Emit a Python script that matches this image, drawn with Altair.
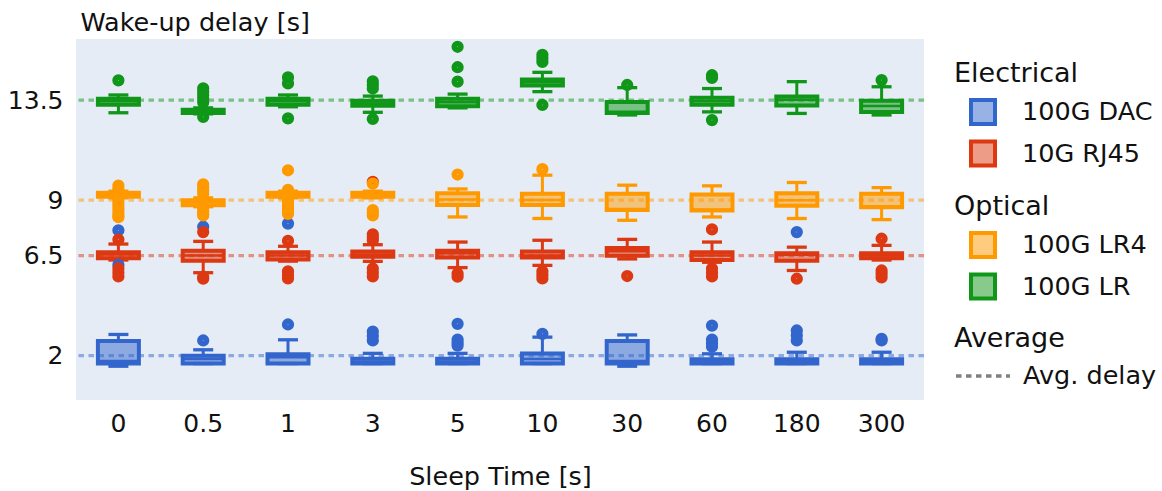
import altair as alt
import pandas as pd

# Sleep-time categories on the x axis
sleep = ["0", "0.5", "1", "3", "5", "10", "30", "60", "180", "300"]

# Transceiver types, grouped by medium
electrical = ["100G DAC", "10G RJ45"]
optical = ["100G LR4", "100G LR"]

line_color = {"100G DAC": "#3366CC", "10G RJ45": "#DC3912",
              "100G LR4": "#FF9900", "100G LR": "#109618"}
fill_color = {"100G DAC": "rgba(51,102,204,0.5)", "10G RJ45": "rgba(220,57,18,0.5)",
              "100G LR4": "rgba(255,153,0,0.5)", "100G LR": "rgba(16,150,24,0.5)"}

# Average wake-up delay per transceiver [s]
average = {"100G DAC": 2.0, "10G RJ45": 6.5, "100G LR4": 9.0, "100G LR": 13.5}

# Box statistics per sleep time [s]
q1 = {
    "100G DAC": [1.64, 1.64, 1.64, 1.64, 1.64, 1.64, 1.64, 1.64, 1.64, 1.64],
    "10G RJ45": [6.38, 6.27, 6.33, 6.45, 6.41, 6.42, 6.49, 6.30, 6.27, 6.38],
    "100G LR4": [9.15, 8.77, 9.15, 9.15, 8.78, 8.78, 8.55, 8.53, 8.74, 8.68],
    "100G LR": [13.29, 12.92, 13.29, 13.24, 13.22, 14.16, 12.92, 13.29, 13.26, 12.96],
}
median = {
    "100G DAC": [1.75, 1.85, 1.92, 1.72, 1.72, 1.85, 1.75, 1.72, 1.72, 1.72],
    "10G RJ45": [6.55, 6.51, 6.50, 6.55, 6.61, 6.51, 6.70, 6.50, 6.54, 6.50],
    "100G LR4": [9.25, 8.90, 9.25, 9.25, 9.02, 9.00, 8.60, 8.58, 8.99, 8.72],
    "100G LR": [13.45, 13.00, 13.45, 13.35, 13.40, 14.30, 12.97, 13.45, 13.52, 13.23],
}
q3 = {
    "100G DAC": [2.66, 1.99, 2.06, 1.86, 1.86, 2.09, 2.66, 1.83, 1.83, 1.83],
    "10G RJ45": [6.65, 6.72, 6.65, 6.68, 6.72, 6.69, 6.84, 6.65, 6.61, 6.61],
    "100G LR4": [9.33, 8.99, 9.33, 9.33, 9.31, 9.28, 9.28, 9.25, 9.31, 9.28],
    "100G LR": [13.56, 13.07, 13.56, 13.47, 13.56, 14.43, 13.41, 13.61, 13.66, 13.47],
}
whisker_low = {
    "100G DAC": [1.52, 1.64, 1.64, 1.64, 1.64, 1.64, 1.52, 1.64, 1.64, 1.64],
    "10G RJ45": [6.30, 5.73, 6.25, 6.24, 5.96, 6.06, 6.35, 6.20, 5.83, 6.30],
    "100G LR4": [9.10, 8.70, 9.10, 9.10, 8.24, 8.17, 8.09, 8.24, 8.17, 8.12],
    "100G LR": [12.93, 12.88, 13.20, 12.95, 13.15, 13.88, 12.83, 12.97, 12.90, 12.83],
}
whisker_high = {
    "100G DAC": [2.95, 2.26, 2.71, 2.10, 2.10, 2.83, 2.93, 2.08, 2.15, 2.15],
    "10G RJ45": [7.02, 7.14, 6.92, 6.99, 7.11, 7.19, 7.23, 7.11, 6.88, 6.96],
    "100G LR4": [9.40, 9.10, 9.40, 9.40, 9.50, 10.12, 9.67, 9.64, 9.79, 9.56],
    "100G LR": [13.73, 13.15, 13.73, 13.68, 13.77, 14.75, 14.06, 14.02, 14.33, 14.10],
}

# Outlying measurements per sleep time [s]
outliers = {
    "100G DAC": [
        [7.64, 6.08], [2.68, 7.80], [3.40, 7.94], [3.08, 2.88, 2.68], [3.43, 2.72, 2.58, 2.45],
        [2.98], [], [3.35, 2.72, 2.56, 2.40], [3.13, 2.90, 2.68, 7.56], [2.75, 2.68],
    ],
    "10G RJ45": [
        [7.22, 5.92, 5.74, 5.56], [7.56, 5.55, 5.46], [7.16, 5.79, 5.63, 5.47],
        [9.82, 7.46, 7.32, 7.19, 5.92, 5.74, 5.56], [5.69, 5.55], [5.79, 5.63, 5.47],
        [5.58], [7.68, 5.92, 5.74, 5.56], [5.46], [7.26, 5.83, 5.68, 5.52],
    ],
    "100G LR4": [
        [9.65, 9.50, 9.05, 8.90, 8.75, 8.60, 8.45, 8.30, 8.23],
        [9.71, 9.56, 9.42, 9.28, 8.65, 8.50, 8.38, 8.31],
        [10.34, 9.46, 9.05, 8.90, 8.75, 8.60, 8.48, 8.38],
        [9.74, 8.55, 8.43, 8.31], [10.15], [10.39], [], [], [], [],
    ],
    "100G LR": [
        [14.39], [14.03, 13.88, 13.72, 13.56, 13.40, 12.74], [14.52, 14.25, 12.68],
        [14.34, 14.18, 14.02, 12.65], [15.90, 14.98, 14.33], [15.54, 15.38, 15.22, 13.28],
        [14.18], [14.62, 14.50, 12.60], [], [14.40],
    ],
}

box_rows = []
point_rows = []
for name in electrical + optical:
    for i, s in enumerate(sleep):
        box_rows.append({
            "sleep": s, "series": name,
            "q1": q1[name][i], "med": median[name][i], "q3": q3[name][i],
            "lo": whisker_low[name][i], "hi": whisker_high[name][i],
        })
        for v in outliers[name][i]:
            point_rows.append({"sleep": s, "series": name, "value": v})
boxes = pd.DataFrame(box_rows)
points = pd.DataFrame(point_rows)

avg_df = pd.DataFrame({
    "series": list(average.keys()),
    "avg": list(average.values()),
    "hex": [line_color[n] for n in average],
    "kind": ["Avg. delay"] * 4,
})

y_scale = alt.Scale(domain=[0, 16.25], nice=False, zero=False)
y_axis = alt.Axis(
    title="Wake-up delay [s]", values=[2, 6.5, 9, 13.5], labelExpr="toString(datum.value)",
    titleAngle=0, titleAlign="left", titleBaseline="alphabetic",
    titleX=4, titleY=-9, labelPadding=13,
)
x_axis = alt.Axis(title="Sleep Time [s]", labelAngle=0, labelPadding=11, titlePadding=28)
x_enc = alt.X("sleep:N", sort=sleep,
              scale=alt.Scale(domain=sleep, paddingInner=0, paddingOuter=0), axis=x_axis)


def y_enc(field):
    return alt.Y(f"{field}:Q", scale=y_scale, axis=y_axis)


def group_layer(names, title, legend_y):
    legend = alt.Legend(
        title=title, orient="none", legendX=878, legendY=legend_y, direction="vertical",
        symbolType="square", symbolSize=576, symbolStrokeWidth=4, symbolOffset=15,
        labelOffset=25, rowPadding=1.5, titlePadding=10, padding=0,
    )
    fill = alt.Fill("series:N", legend=legend,
                    scale=alt.Scale(domain=names, range=[fill_color[n] for n in names]))
    stroke = alt.Stroke("series:N", legend=legend,
                        scale=alt.Scale(domain=names, range=[line_color[n] for n in names]))
    base = alt.Chart(boxes[boxes["series"].isin(names)])
    whisk_lo = base.mark_rule(strokeWidth=3).encode(x=x_enc, y=y_enc("lo"), y2="q1:Q", stroke=stroke)
    whisk_hi = base.mark_rule(strokeWidth=3).encode(x=x_enc, y=y_enc("q3"), y2="hi:Q", stroke=stroke)
    cap_lo = base.mark_rule(strokeWidth=3.3, xOffset=-10, x2Offset=10).encode(
        x=x_enc, x2="sleep:N", y=y_enc("lo"), stroke=stroke)
    cap_hi = base.mark_rule(strokeWidth=3.3, xOffset=-10, x2Offset=10).encode(
        x=x_enc, x2="sleep:N", y=y_enc("hi"), stroke=stroke)
    box = base.mark_bar(width=41, strokeWidth=4).encode(
        x=x_enc, y=y_enc("q1"), y2="q3:Q", fill=fill, stroke=stroke)
    med = base.mark_rule(strokeWidth=2.5, xOffset=-20.5, x2Offset=20.5).encode(
        x=x_enc, x2="sleep:N", y=y_enc("med"), stroke=stroke)
    pts = alt.Chart(points[points["series"].isin(names)]).mark_point(
        shape="circle", filled=False, size=33, strokeWidth=6.5, opacity=1
    ).encode(x=x_enc, y=y_enc("value"), stroke=stroke)
    return alt.layer(whisk_lo, whisk_hi, cap_lo, cap_hi, box, med, pts)


avg_rules = alt.Chart(avg_df).mark_rule(strokeWidth=3.3, opacity=0.5).encode(
    y=y_enc("avg"),
    color=alt.Color("hex:N", scale=None),
    strokeDash=alt.StrokeDash(
        "kind:N",
        scale=alt.Scale(domain=["Avg. delay"], range=[[5.5, 4.5]]),
        legend=alt.Legend(
            title="Average", orient="none", legendX=878, legendY=287,
            symbolType="stroke", symbolSize=2916, symbolStrokeWidth=3.5,
            symbolStrokeColor="#808080", symbolOpacity=1, symbolOffset=0,
            labelOffset=11, titlePadding=-6, padding=0,
        ),
    ),
)

chart = alt.layer(
    avg_rules,
    group_layer(electrical, "Electrical", 22),
    group_layer(optical, "Optical", 155),
).resolve_scale(
    fill="independent", stroke="independent"
).properties(
    width=848, height=361,
    padding={"left": 76, "top": 39, "right": 238, "bottom": 91},
    autosize=alt.AutoSizeParams(type="none"),
).configure(
    font="DejaVu Sans"
).configure_view(
    fill="#E5ECF6", stroke=None
).configure_axis(
    grid=False, domain=False, ticks=False, tickSize=0,
    labelFontSize=25, titleFontSize=25.5, titleFontWeight="normal",
    labelColor="#111111", titleColor="#111111",
).configure_legend(
    titleFontSize=27, labelFontSize=25.5, titleFontWeight="normal",
    titleColor="#111111", labelColor="#111111",
)

chart.save("out.html", embed_options={"renderer": "svg", "actions": False})
